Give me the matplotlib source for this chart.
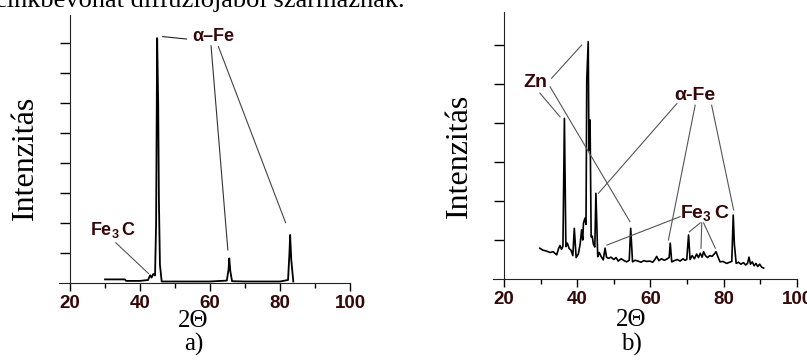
import matplotlib
matplotlib.use('Agg')
import matplotlib.pyplot as plt

plt.rcParams['mathtext.fontset'] = 'custom'
plt.rcParams['mathtext.bf'] = 'Liberation Sans:bold'
plt.rcParams['mathtext.rm'] = 'Liberation Sans'

# a) minta - diffraktogram
two_theta_a = [30, 35.7, 36, 40, 42.3, 42.9, 43.3, 43.8, 44.3, 44.6, 44.9, 45.2, 45.4, 45.7, 46.2,
               50, 55, 60, 64.8, 65.3, 65.5, 65.8, 66.3, 70, 75, 80, 82.3, 82.7, 82.9, 83.2, 83.8]
intens_a = [0.12, 0.12, 0.07, 0.07, 0.1, 0.26, 0.18, 0.3, 0.25, 2.0, 8.16, 6.0, 2.77, 0.6, 0.05,
            0.05, 0.05, 0.05, 0.08, 0.45, 0.82, 0.4, 0.06, 0.05, 0.05, 0.05, 0.1, 1.0, 1.6, 0.8, 0.05]

# b) minta - diffraktogram
two_theta_b = [29.8, 30.6, 31.5, 32.6, 33.4, 34.4, 34.9, 35.3, 35.7, 36.1, 36.5, 36.9, 37.3, 37.8,
               38.3, 38.8, 39.2, 39.7, 40.3, 40.8, 41.2, 41.5, 41.7, 42.1, 42.4, 42.6, 43.0, 43.2,
               43.5, 43.8, 44.1, 44.4, 44.8, 45.1, 45.6, 46.0, 46.5, 47.1, 47.6, 48.0, 48.5, 49.2,
               50.0, 50.6, 51.2, 52.0, 52.8, 53.5, 54.2, 54.6, 55.1, 55.8, 56.6, 57.4, 58.2, 59.0,
               59.8, 60.6, 61.2, 61.7, 62.3, 63.0, 63.8, 64.6, 65.1, 65.4, 65.8, 66.5, 67.3, 68.1,
               68.9, 69.4, 69.9, 70.4, 70.8, 71.4, 72.0, 72.6, 73.1, 73.6, 74.1, 74.5, 75.0, 75.6,
               76.2, 76.8, 77.4, 77.9, 78.5, 79.0, 79.8, 80.8, 81.6, 82.2, 82.6, 82.9, 83.4, 84.0,
               84.7, 85.4, 86.0, 86.5, 86.9, 87.3, 87.8, 88.3, 88.8, 89.3, 89.8, 90.4, 90.9]
intens_b = [0.79, 0.74, 0.72, 0.68, 0.70, 0.62, 0.78, 0.86, 0.76, 0.84, 4.12, 0.83, 0.92, 0.78,
            0.74, 0.60, 1.30, 0.55, 0.64, 0.90, 1.26, 1.00, 1.43, 1.56, 1.40, 5.10, 6.09, 3.30,
            4.08, 1.08, 1.10, 0.90, 0.82, 2.20, 0.57, 0.68, 0.58, 0.49, 0.79, 0.56, 0.53, 0.56,
            0.50, 0.55, 0.46, 0.52, 0.47, 0.44, 0.48, 1.30, 0.44, 0.48, 0.46, 0.43, 0.47, 0.45,
            0.46, 0.43, 0.50, 0.58, 0.47, 0.52, 0.48, 0.52, 0.55, 0.92, 0.44, 0.47, 0.50, 0.46,
            0.52, 0.48, 0.50, 1.13, 0.50, 0.60, 0.52, 0.64, 0.55, 0.66, 0.56, 0.70, 0.60, 0.55,
            0.60, 0.58, 0.64, 0.70, 0.55, 0.44, 0.45, 0.40, 0.43, 0.45, 1.64, 0.90, 0.40, 0.43,
            0.38, 0.42, 0.36, 0.40, 0.56, 0.38, 0.44, 0.34, 0.40, 0.32, 0.38, 0.30, 0.28]

x_major = [20, 40, 60, 80, 100]
x_minor = [30, 50, 70, 90]

LBL = '#350808'   # sötétbarna feliratszín
GRY = '#555555'

fig = plt.figure(figsize=(8.07, 3.64), dpi=100)

# felső, levágott szövegsor
fig.text(405 / 807, 357 / 364, 'cinkbevonat diffúziójából származnak.', ha='right', va='baseline',
         family='Liberation Serif', fontsize=19)


def setup_axes(ax, ytop, nyticks):
    ax.set_xlim(17, 100.5)
    ax.set_ylim(0, ytop)
    for s in ['top', 'right']:
        ax.spines[s].set_visible(False)
    ax.spines['left'].set_position(('data', 20))
    ax.spines['bottom'].set_bounds(17, 100)
    ax.spines['left'].set_color('#222222')
    ax.spines['bottom'].set_color('#222222')
    ax.set_xticks(x_major)
    ax.set_xticks(x_minor, minor=True)
    ax.set_yticks(range(1, nyticks + 1))
    ax.set_yticklabels([])
    ax.tick_params(axis='x', which='major', length=6, width=1, direction='out', pad=3,
                   labelsize=13.5, labelcolor=LBL)
    ax.tick_params(axis='x', which='minor', length=3.5, width=1, direction='out')
    ax.tick_params(axis='y', length=7, width=1, direction='out')
    for t in ax.get_xticklabels():
        t.set_fontweight('bold')
        t.set_family('Liberation Sans')
    ax.patch.set_alpha(0)


def label(ax, txt, xy_text, segs, size=13):
    ax.text(xy_text[0], xy_text[1], txt, ha='center', va='center', color=LBL,
            fontsize=size, fontweight='bold', family='Liberation Sans')
    for (x0, y0), (x1, y1), c in segs:
        ax.plot([x0, x1], [y0, y1], color=c, lw=0.8)


# ---- a) ----
axa = fig.add_axes([59.5 / 807, 81 / 364, 292.25 / 807, 268 / 364])
setup_axes(axa, 8.93, 8)
axa.plot(two_theta_a, intens_a, color='black', lw=1.3)
label(axa, 'α–Fe', (61.0, 8.2),
      [((46.5, 8.21), (53.3, 8.13), '#222222'),
       ((60.3, 7.9), (65.1, 1.1), '#333333'),
       ((62.4, 7.88), (81.6, 2.01), '#444444')])
label(axa, r'$\mathbf{Fe_{3}\,C}$', (32.4, 1.77), [((33.1, 1.34), (42.4, 0.32), GRY)])

# ---- b) ----
axb = fig.add_axes([493 / 807, 85 / 364, 305.8 / 807, 267 / 364])
setup_axes(axb, 6.85, 6)
axb.plot(two_theta_b, intens_b, color='black', lw=1.2)
label(axb, 'Zn', (28.5, 5.05),
      [((33.0, 5.15), (41.2, 6.0), GRY),
       ((32.6, 4.93), (54.4, 1.47), GRY),
       ((29.8, 4.77), (35.3, 4.16), GRY)], size=14)
label(axb, 'α-Fe', (72.2, 4.72),
      [((67.2, 4.5), (45.8, 2.2), GRY),
       ((72.2, 4.46), (64.9, 1.0), GRY),
       ((76.7, 4.46), (82.7, 1.77), GRY)], size=14)
label(axb, r'$\mathbf{Fe_{3}\,C}$', (74.8, 1.69),
      [((68.1, 1.6), (48.1, 0.87), GRY),
       ((73.6, 1.44), (70.6, 1.21), GRY),
       ((74.0, 1.44), (73.8, 0.79), GRY),
       ((74.5, 1.44), (77.7, 0.79), GRY)], size=14)

# tengelyfeliratok (Times-szerű)
serif = dict(family='Liberation Serif', color='black')
fig.text(25 / 807, 1 - 158 / 364, 'Intenzitás', rotation=90, ha='center', va='center', fontsize=23, **serif)
fig.text(459 / 807, 1 - 156 / 364, 'Intenzitás', rotation=90, ha='center', va='center', fontsize=23, **serif)
fig.text(193 / 807, 1 - 321 / 364, '2Θ', ha='center', va='center', fontsize=18, **serif)
fig.text(631 / 807, 1 - 320 / 364, '2Θ', ha='center', va='center', fontsize=18, **serif)
fig.text(194 / 807, 1 - 344 / 364, 'a)', ha='center', va='center', fontsize=18, **serif)
fig.text(631 / 807, 1 - 344 / 364, 'b)', ha='center', va='center', fontsize=18, **serif)

fig.savefig('out.png', dpi=100)
